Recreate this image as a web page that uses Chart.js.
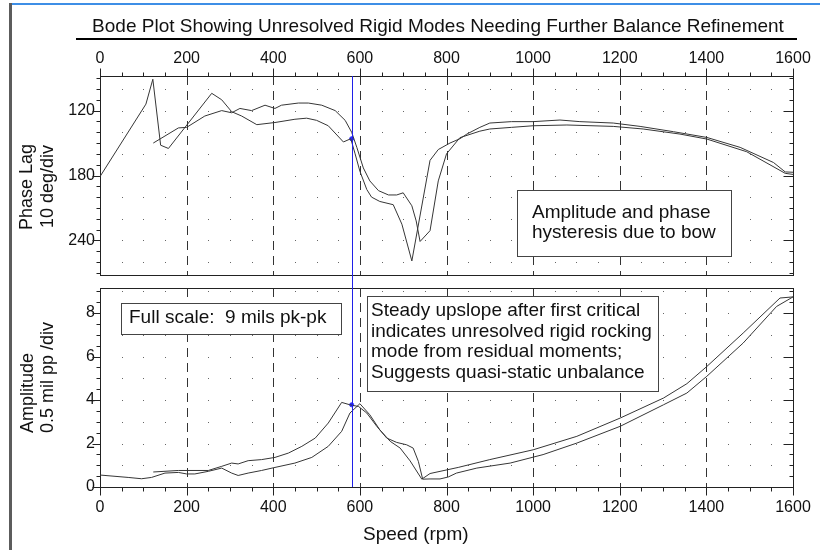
<!DOCTYPE html>
<html>
<head>
<meta charset="utf-8">
<script src="https://cdn.jsdelivr.net/npm/chart.js@4.4.1/dist/chart.umd.min.js"></script>
<style>
  html, body { margin: 0; padding: 0; background: #fff; }
  #page { position: relative; width: 820px; height: 550px; overflow: hidden; }
  #page canvas { position: absolute; left: 0; }
  #phase { top: 0; }
  #amp { top: 280px; }
  .edge-top { position: absolute; left: 9px; right: 0; top: 3px; height: 2px; background: #3d8ee6; }
  .edge-left { position: absolute; left: 9px; top: 3px; bottom: 0; width: 3px; background: #5c5c5c; }
</style>
</head>
<body>
<div id="page">
  <canvas id="phase" width="820" height="280"></canvas>
  <canvas id="amp" width="820" height="270"></canvas>
  <div class="edge-top"></div>
  <div class="edge-left"></div>
</div>
<script>
// axis labels
var speedTicks = [0, 200, 400, 600, 800, 1000, 1200, 1400, 1600];
var phaseTicks = [120, 180, 240];
var ampTicks = [0, 2, 4, 6, 8];

// phase lag (deg), run-up
var upPhaseRpm = [0, 106, 122, 140, 158, 258, 281, 304, 327, 362, 404, 450, 477, 500, 527, 562, 579, 589, 600, 616, 627, 646, 677, 697, 720, 762, 781, 808, 831, 847, 877, 900, 950, 1000, 1062, 1108, 1185, 1247, 1324, 1401, 1478, 1555, 1582, 1600];
var upPhaseDeg = [181, 114, 91, 152, 155, 104, 110, 121, 125, 133, 131, 128, 127, 129, 134, 149, 146, 160, 176, 193, 200, 204, 207, 225, 259, 166, 156, 150, 146, 141.7, 135.5, 131.5, 130.2, 130.2, 128.7, 130.2, 131.5, 134.6, 139.5, 144.8, 154, 168, 176.7, 177];

// phase lag (deg), coast-down
var downPhaseRpm = [123, 181, 200, 242, 281, 304, 323, 350, 381, 404, 419, 458, 481, 512, 543, 566, 581, 593, 608, 623, 643, 666, 685, 700, 720, 730, 739, 762, 781, 800, 831, 877, 900, 950, 1000, 1078, 1185, 1254, 1339, 1401, 1493, 1582, 1600];
var downPhaseDeg = [150, 136, 135.5, 125, 120, 122, 118, 120, 115, 118, 115, 113, 113, 115, 120, 129, 140, 154, 173, 185, 194, 198, 198, 196, 208, 222, 241, 231, 185, 160, 145, 139, 137, 135.5, 134, 133.3, 134.6, 137, 141.7, 146.3, 158, 178, 179];

// amplitude (mils pk-pk), run-up
var upAmpRpm = [0, 65, 96, 119, 150, 181, 200, 219, 250, 281, 304, 319, 342, 373, 404, 450, 489, 527, 558, 577, 600, 623, 646, 670, 693, 716, 743, 762, 827, 900, 1000, 1101, 1201, 1301, 1355, 1401, 1485, 1570, 1600];
var upAmpMils = [0.55, 0.44, 0.38, 0.44, 0.64, 0.67, 0.6, 0.6, 0.72, 0.87, 0.64, 0.53, 0.64, 0.76, 0.9, 1.1, 1.36, 1.87, 2.56, 3.4, 3.83, 3.32, 2.63, 2.1, 1.79, 1.2, 0.36, 0.62, 0.9, 1.26, 1.71, 2.33, 3.17, 4.09, 4.75, 5.54, 7.08, 8.69, 8.74];

// amplitude (mils pk-pk), coast-down
var downAmpRpm = [123, 181, 250, 281, 304, 319, 342, 373, 404, 435, 466, 497, 527, 558, 577, 597, 616, 639, 662, 685, 708, 723, 735, 745, 762, 785, 804, 823, 870, 947, 1023, 1101, 1201, 1301, 1355, 1401, 1485, 1562, 1600];
var downAmpMils = [0.69, 0.76, 0.76, 0.95, 1.1, 1.06, 1.21, 1.26, 1.36, 1.56, 1.87, 2.25, 2.94, 3.89, 3.78, 3.7, 3.4, 2.79, 2.25, 2.05, 1.94, 1.79, 1.18, 0.36, 0.37, 0.37, 0.46, 0.64, 0.87, 1.1, 1.49, 2.02, 2.79, 3.78, 4.32, 5.09, 6.62, 8.3, 8.74];

// cursor
var cursorRpm = 581;
var cursorPhase = 146;
var cursorAmp = 3.78;

var FONT = "'Liberation Sans', Arial, sans-serif";
Chart.defaults.font.family = FONT;
Chart.defaults.font.size = 16;
Chart.defaults.color = '#111';

function pts(xs, ys) {
  return xs.map(function (x, i) { return {x: x, y: ys[i]}; });
}
function crisp(v) { return Math.round(v) + 0.5; }
function seg(ctx, x1, y1, x2, y2) {
  ctx.beginPath(); ctx.moveTo(x1, y1); ctx.lineTo(x2, y2); ctx.stroke();
}

// grid dots, dashed lines, frame, tick marks, cursor and notes
var panel = {
  id: 'panel',
  beforeDatasetsDraw: function (chart, args, o) {
    var ctx = chart.ctx, a = chart.chartArea, x = chart.scales.x, y = chart.scales.y;
    var L = Math.round(a.left), R = Math.round(a.right), T = Math.round(a.top), B = Math.round(a.bottom);
    var s;
    ctx.save();
    ctx.fillStyle = '#666';
    for (s = 50; s < 1600; s += 50) {
      if (s % 200 === 0) continue;
      var xp = Math.round(x.getPixelForValue(s));
      o.dotRows.forEach(function (v) {
        ctx.fillRect(xp, Math.round(y.getPixelForValue(v)), 1, 1);
      });
    }
    ctx.strokeStyle = '#333';
    ctx.lineWidth = 1;
    ctx.setLineDash([9, 6]);
    for (s = 200; s < 1600; s += 200) {
      var xd = crisp(x.getPixelForValue(s));
      seg(ctx, xd, T, xd, B);
    }
    ctx.setLineDash([]);
    ctx.strokeStyle = '#222';
    ctx.strokeRect(L + 0.5, T + 0.5, R - L, B - T);
    var ay = o.xTop ? T + 0.5 : B + 0.5, dir = o.xTop ? -1 : 1;
    for (s = 0; s <= 1600; s += 50) {
      var xt = crisp(x.getPixelForValue(s));
      seg(ctx, xt, ay, xt, ay + dir * (s % 200 === 0 ? 8 : 4));
    }
    for (var v = o.minor[0]; v <= o.minor[1] + 1e-9; v += o.minor[2]) {
      var yt = crisp(y.getPixelForValue(v));
      var major = o.major.indexOf(v) >= 0;
      seg(ctx, L + 0.5 - (major ? 8 : 4), yt, L + 0.5, yt);
      seg(ctx, R + 0.5 - (major ? 10 : 4), yt, R + 0.5, yt);
    }
    ctx.restore();
  },
  afterDatasetsDraw: function (chart, args, o) {
    var ctx = chart.ctx, a = chart.chartArea;
    var xc = crisp(chart.scales.x.getPixelForValue(cursorRpm));
    ctx.save();
    ctx.strokeStyle = '#2020e8';
    ctx.lineWidth = 1;
    if (o.xTop) seg(ctx, xc, a.top, xc, chart.height);
    else seg(ctx, xc, 0, xc, a.bottom);
    ctx.restore();
  },
  afterDraw: function (chart, args, o) {
    var ctx = chart.ctx;
    ctx.save();
    (o.boxes || []).forEach(function (b) {
      ctx.fillStyle = '#fff';
      ctx.fillRect(b.x, b.y, b.w, b.h);
      ctx.strokeStyle = '#444';
      ctx.lineWidth = 1;
      ctx.strokeRect(b.x + 0.5, b.y + 0.5, b.w, b.h);
      ctx.fillStyle = '#111';
      ctx.font = '19px ' + FONT;
      ctx.textAlign = 'left';
      ctx.textBaseline = 'alphabetic';
      b.lines.forEach(function (t, i) { ctx.fillText(t, b.tx, b.ty + i * b.lh); });
    });
    (o.texts || []).forEach(function (t) {
      ctx.save();
      ctx.font = t.size + 'px ' + FONT;
      ctx.fillStyle = '#111';
      ctx.translate(t.x, t.y);
      if (t.rot) {
        ctx.rotate(-Math.PI / 2);
        ctx.textBaseline = 'middle';
      } else {
        ctx.textBaseline = 'alphabetic';
      }
      ctx.textAlign = t.align || 'left';
      ctx.fillText(t.text, 0, 0);
      ctx.restore();
    });
    if (o.underline) {
      ctx.fillStyle = '#000';
      ctx.fillRect(o.underline[0], o.underline[1], o.underline[2], o.underline[3]);
    }
    ctx.restore();
  }
};

function curve(data) {
  return {data: data, borderColor: '#363636', borderWidth: 1, pointRadius: 0, tension: 0, fill: false};
}
function marker(data) {
  return {data: data, showLine: false, pointRadius: 2, pointBackgroundColor: '#2a2aff', pointBorderColor: '#2a2aff'};
}

function makeChart(id, c) {
  return new Chart(document.getElementById(id), {
    type: 'line',
    data: {
      datasets: [
        curve(pts(c.upX, c.upY)),
        curve(pts(c.downX, c.downY)),
        marker([{x: cursorRpm, y: c.cursorY}])
      ]
    },
    plugins: [panel],
    options: {
      responsive: false,
      animation: false,
      devicePixelRatio: 1,
      layout: {padding: c.padding},
      plugins: {legend: {display: false}, tooltip: {enabled: false}, panel: c.panel},
      scales: {
        x: {
          type: 'linear',
          position: c.panel.xTop ? 'top' : 'bottom',
          min: 0, max: 1600,
          grid: {display: false, drawTicks: false},
          border: {display: false},
          afterBuildTicks: function (s) { s.ticks = speedTicks.map(function (v) { return {value: v}; }); },
          afterFit: function (s) { s.height = c.xHeight; s.paddingLeft = 0; s.paddingRight = 0; },
          ticks: {
            autoSkip: false, maxRotation: 0, padding: c.xPad, color: '#111',
            callback: function (v) { return String(v); }
          }
        },
        y: {
          type: 'linear',
          reverse: !!c.reverse,
          min: c.yMin, max: c.yMax,
          grid: {display: false, drawTicks: false},
          border: {display: false},
          afterBuildTicks: function (s) { s.ticks = c.yTicks.map(function (v) { return {value: v}; }); },
          afterFit: function (s) { s.width = 100; s.paddingTop = 0; s.paddingBottom = 0; },
          ticks: {
            autoSkip: false, padding: 5, color: '#111',
            callback: function (v) { return String(v); }
          }
        }
      }
    }
  });
}

makeChart('phase', {
  upX: upPhaseRpm, upY: upPhaseDeg, downX: downPhaseRpm, downY: downPhaseDeg,
  cursorY: cursorPhase,
  yMin: 88, yMax: 272, reverse: true, yTicks: phaseTicks,
  padding: {top: 40, right: 27, bottom: 5, left: 0},
  xHeight: 36, xPad: 8,
  panel: {
    xTop: true,
    dotRows: [100, 120, 140, 160, 180, 200, 220, 240, 260],
    minor: [90, 270, 10],
    major: phaseTicks,
    underline: [76, 38, 721, 2],
    boxes: [
      {x: 517, y: 190, w: 214, h: 66, tx: 532, ty: 218, lh: 20,
       lines: ['Amplitude and phase', 'hysteresis due to bow']}
    ],
    texts: [
      {text: 'Bode Plot Showing Unresolved Rigid Modes Needing Further Balance Refinement',
       x: 438, y: 31.5, size: 19, align: 'center'},
      {text: 'Phase Lag', x: 27, y: 230, size: 18, rot: true},
      {text: '10 deg/div', x: 48, y: 228, size: 18, rot: true}
    ]
  }
});

makeChart('amp', {
  upX: upAmpRpm, upY: upAmpMils, downX: downAmpRpm, downY: downAmpMils,
  cursorY: cursorAmp,
  yMin: 0, yMax: 9.15, yTicks: ampTicks,
  padding: {top: 8, right: 27, bottom: 0, left: 0},
  xHeight: 63, xPad: 11,
  panel: {
    xTop: false,
    dotRows: [1, 2, 3, 4, 5, 6, 7, 8, 9],
    minor: [0, 9, 0.5],
    major: ampTicks,
    boxes: [
      {x: 121, y: 23, w: 220, h: 31, tx: 129, ty: 43, lh: 20,
       lines: ['Full scale:  9 mils pk-pk']},
      {x: 367, y: 16, w: 291, h: 95, tx: 371, ty: 36, lh: 20.5,
       lines: ['Steady upslope after first critical', 'indicates unresolved rigid rocking',
               'mode from residual moments;', 'Suggests quasi-static unbalance']}
    ],
    texts: [
      {text: 'Amplitude', x: 28, y: 153, size: 18, rot: true},
      {text: '0.5 mil pp /div', x: 48, y: 153, size: 18, rot: true},
      {text: 'Speed (rpm)', x: 363, y: 260, size: 19}
    ]
  }
});
</script>
</body>
</html>
